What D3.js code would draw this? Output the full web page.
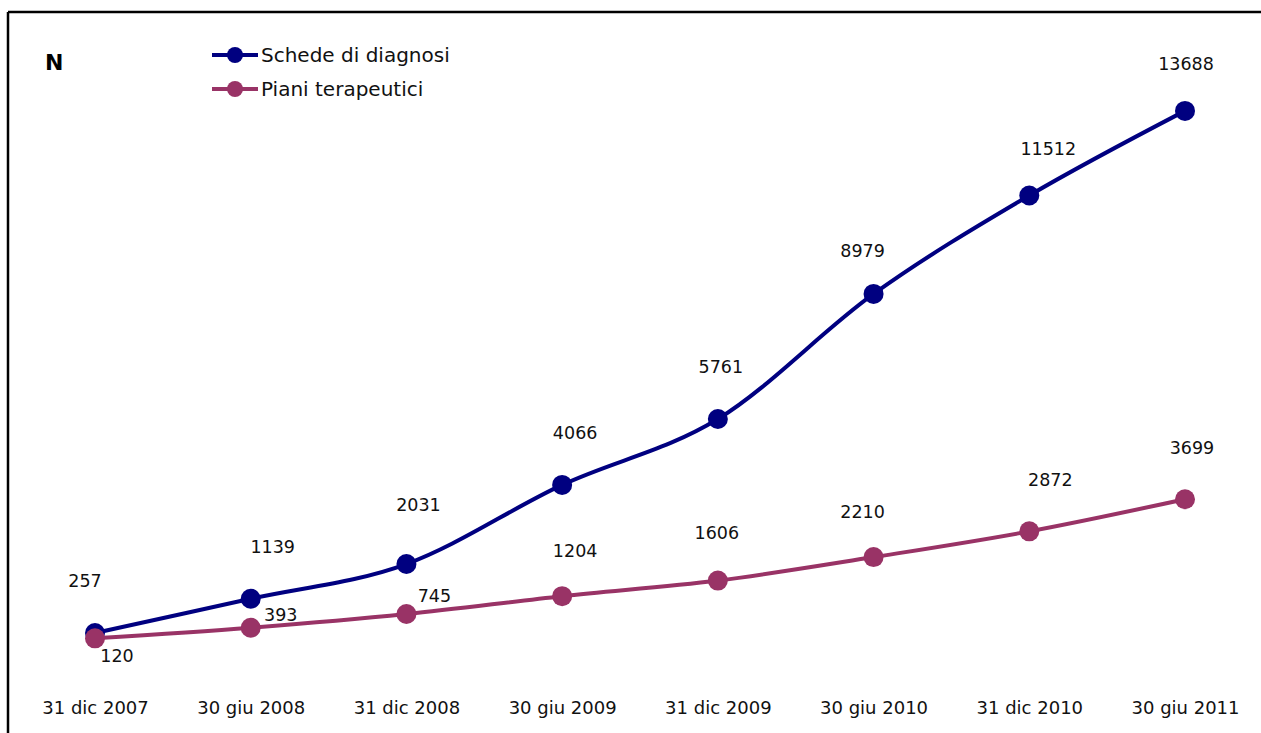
<!DOCTYPE html>
<html>
<head>
<meta charset="utf-8">
<script src="https://cdn.jsdelivr.net/npm/d3@7"></script>
<style>
  html, body { margin: 0; padding: 0; background: #fff; }
  svg { display: block; font-family: "DejaVu Sans", sans-serif; }
</style>
</head>
<body>
<svg id="chart" width="1261" height="733"></svg>
<script>
// Reporting dates and cumulative counts
const dates = ["31 dic 2007", "30 giu 2008", "31 dic 2008", "30 giu 2009",
               "31 dic 2009", "30 giu 2010", "31 dic 2010", "30 giu 2011"];
const schedeDiagnosi = [257, 1139, 2031, 4066, 5761, 8979, 11512, 13688];
const pianiTerapeutici = [120, 393, 745, 1204, 1606, 2210, 2872, 3699];
const seriesNames = ["Schede di diagnosi", "Piani terapeutici"];
const seriesColors = ["#000080", "#993366"];

// Hand-placed data label offsets (dx, dy) relative to each marker
const schedeLabelOffsets = [[-10, -46], [22, -46], [12, -53], [13, -46],
                            [3, -46], [-11, -37], [19, -40], [1, -41]];
const pianiLabelOffsets = [[22, 24], [30, -7], [28, -12], [13, -39],
                           [-1, -42], [-11, -39], [21, -45], [7, -45]];

const svg = d3.select("#chart");

// Frame: top and left rules
svg.append("line").attr("x1", 8).attr("x2", 1261).attr("y1", 12).attr("y2", 12)
  .attr("stroke", "#000").attr("stroke-width", 2.5);
svg.append("line").attr("x1", 8).attr("x2", 8).attr("y1", 12).attr("y2", 733)
  .attr("stroke", "#000").attr("stroke-width", 2.5);

const x = d3.scalePoint().domain(dates).range([95, 1185]);
const y = d3.scaleLinear().domain([0, 16000]).range([643, 21]);

// Category axis (labels only)
const xAxis = svg.append("g").attr("transform", "translate(0,700)")
  .call(d3.axisBottom(x).tickSize(0).tickPadding(0));
xAxis.select(".domain").remove();
xAxis.selectAll("text").attr("font-size", 18).attr("fill", "#111")
  .attr("font-family", "DejaVu Sans, sans-serif").attr("dy", "0.75em");

// Axis title
svg.append("text").attr("x", 45).attr("y", 70).text("N")
  .attr("font-size", 22).attr("font-weight", "bold").attr("fill", "#000");

const line = d3.line()
  .x((d, i) => x(dates[i]))
  .y(d => y(d))
  .curve(d3.curveCatmullRom.alpha(0));

const series = [
  { values: schedeDiagnosi, offsets: schedeLabelOffsets },
  { values: pianiTerapeutici, offsets: pianiLabelOffsets }
];

series.forEach((s, si) => {
  const g = svg.append("g");
  g.append("path").datum(s.values)
    .attr("d", line).attr("fill", "none")
    .attr("stroke", seriesColors[si]).attr("stroke-width", 4)
    .attr("stroke-linejoin", "round");
  g.selectAll("circle").data(s.values).join("circle")
    .attr("cx", (d, i) => x(dates[i]))
    .attr("cy", d => y(d))
    .attr("r", 10)
    .attr("fill", seriesColors[si]);
  g.selectAll("text").data(s.values).join("text")
    .attr("x", (d, i) => x(dates[i]) + s.offsets[i][0])
    .attr("y", (d, i) => y(d) + s.offsets[i][1])
    .attr("text-anchor", "middle")
    .attr("font-size", 17.5)
    .attr("fill", "#111")
    .text(d => d);
});

// Legend
const legend = svg.append("g");
seriesNames.forEach((name, i) => {
  const ly = 55 + i * 34;
  legend.append("line").attr("x1", 212).attr("x2", 258).attr("y1", ly).attr("y2", ly)
    .attr("stroke", seriesColors[i]).attr("stroke-width", 4);
  legend.append("circle").attr("cx", 235).attr("cy", ly).attr("r", 8)
    .attr("fill", seriesColors[i]);
  legend.append("text").attr("x", 261).attr("y", ly + 7).text(name)
    .attr("font-size", 20).attr("fill", "#111");
});
</script>
</body>
</html>
